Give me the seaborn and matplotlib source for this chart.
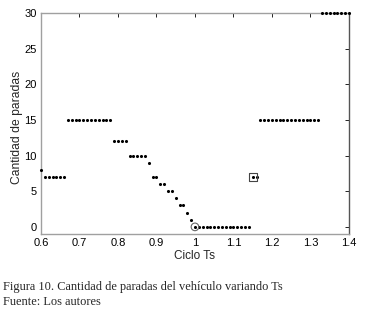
import numpy as np
import pandas as pd
import seaborn as sns
from matplotlib import pyplot as plt

# Ts cycle values and number of vehicle stops
ciclo_ts = np.round(np.arange(0.60, 1.401, 0.01), 2)
paradas = ([8] + [7] * 6 + [15] * 12 + [12] * 4 + [10] * 5 + [9] + [7] * 2 + [6] * 2
           + [5] * 2 + [4] + [3] * 2 + [2] + [1] + [0] * 15 + [7] * 2 + [15] * 16 + [30] * 8)
x_ticks = [0.6, 0.7, 0.8, 0.9, 1, 1.1, 1.2, 1.3, 1.4]
x_tick_labels = ['0.6', '0.7', '0.8', '0.9', '1', '1.1', '1.2', '1.3', '1.4']
y_ticks = [0, 5, 10, 15, 20, 25, 30]
# highlighted points
circle_x, circle_y = [1.00], [0]
square_x, square_y = [1.15], [7]

df = pd.DataFrame({'Ciclo Ts': ciclo_ts, 'Paradas': paradas})

sns.set_style('white')
plt.rcParams['font.family'] = ['Liberation Sans', 'DejaVu Sans']

fig = plt.figure(figsize=(3.71, 3.12), dpi=100)
ax = fig.add_axes([0.1105, 0.25, 0.830, 0.708])

sns.scatterplot(data=df, x='Ciclo Ts', y='Paradas', ax=ax, color='black',
                s=5, linewidth=0, clip_on=False, zorder=3)
ax.scatter(circle_x, circle_y, s=30, facecolors='none', edgecolors='#666666',
           linewidths=0.8, clip_on=False, zorder=4)
ax.scatter(square_x, square_y, s=30, marker='s', facecolors='none', edgecolors='#444444',
           linewidths=0.8, clip_on=False, zorder=4)

ax.set_xlim(0.6, 1.4)
ax.set_ylim(-1, 30)
ax.set_xticks(x_ticks)
ax.set_xticklabels(x_tick_labels)
ax.set_yticks(y_ticks)
ax.tick_params(direction='in', length=3, width=0.6, labelsize=8, colors='black',
               top=True, right=True, pad=3)
for side in ['left', 'top', 'bottom']:
    ax.spines[side].set_color('#a0a0a0')
    ax.spines[side].set_linewidth(1.0)
ax.spines['right'].set_color('#555555')
ax.spines['right'].set_linewidth(1.0)

ax.set_xlabel('Ciclo Ts', fontsize=8.5, labelpad=1)
ax.set_ylabel('Cantidad de paradas', fontsize=8.7)
ax.yaxis.set_label_coords(-0.06, 0.484)

fig.text(0.008, 0.072, 'Figura 10. Cantidad de paradas del vehículo variando Ts',
         family='Liberation Serif', fontsize=8.9)
fig.text(0.008, 0.022, 'Fuente: Los autores', family='Liberation Serif', fontsize=8.9)

plt.savefig('out.png', dpi=100)
